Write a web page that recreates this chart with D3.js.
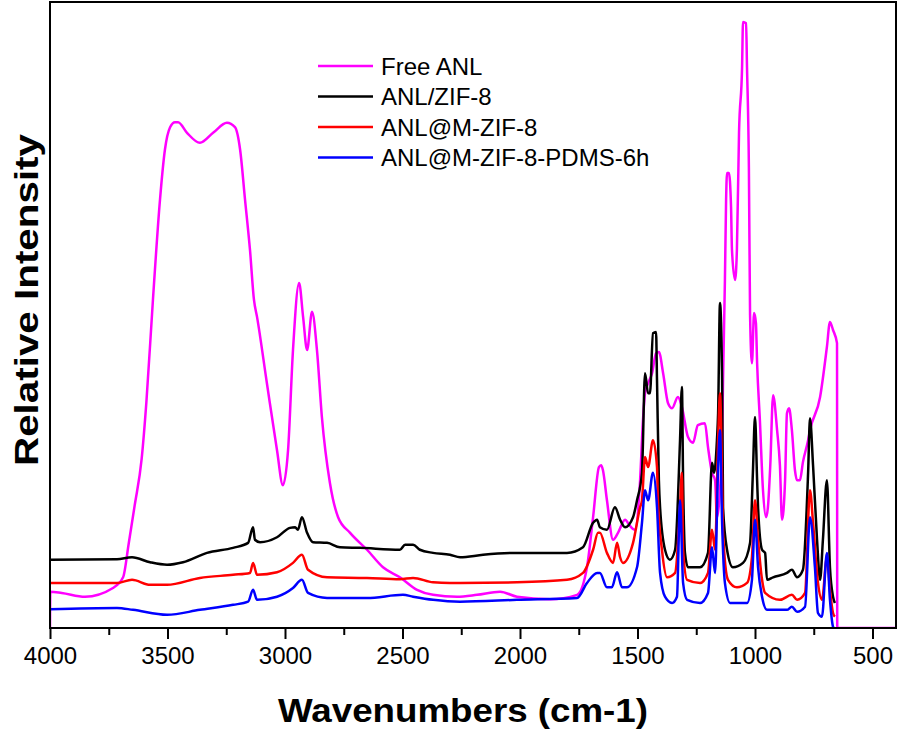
<!DOCTYPE html>
<html><head><meta charset="utf-8">
<script src="https://cdnjs.cloudflare.com/ajax/libs/d3/7.8.5/d3.min.js"></script>
<style>
html,body{margin:0;padding:0;background:#fff;}
svg{display:block;font-family:"Liberation Sans",Arial,sans-serif;}
</style></head>
<body>
<svg id="chart" width="898" height="731"></svg>
<script>
// ---------- data (wavenumber cm-1, relative intensity 0-100) ----------
const seriesNames = ["Free ANL", "ANL/ZIF-8", "ANL@M-ZIF-8", "ANL@M-ZIF-8-PDMS-6h"];
const seriesColors = ["#ff00ff", "#000000", "#ff0000", "#0000ff"];
const majorTicks = [4000, 3500, 3000, 2500, 2000, 1500, 1000, 500];
const minorTicks = [3750, 3250, 2750, 2250, 1750, 1250, 750];

const freeANL = [[4000,0],[3999,5.8],[3950,5.6],[3851,5.0],[3732,6.4],[3689,8.1],[3665,13.5],[3640,19.5],[3610,27],[3590,36],[3562,52.4],[3532,68.4],[3511,76.4],[3489,80.0],[3468,80.8],[3455,80.8],[3417,79.1],[3362,77.5],[3306,79.1],[3247,80.7],[3213,80.0],[3191,76.4],[3170,68.4],[3149,60.4],[3132,52.4],[3119,49.7],[3077,39.1],[3034,28.4],[3009,22.8],[2987,28.4],[2966,44.4],[2940,55.1],[2923,49.7],[2906,44.4],[2885,50.5],[2864,44.4],[2843,33.7],[2809,23.2],[2774,17.7],[2723,15.2],[2651,12.5],[2583,9.7],[2511,8.1],[2438,6.1],[2370,5.3],[2268,5.0],[2183,5.3],[2085,5.8],[2013,5.0],[1872,4.6],[1757,5.3],[1715,9.7],[1689,17.7],[1664,25.7],[1655,26.0],[1647,25.2],[1630,20.4],[1604,14.1],[1583,15.2],[1553,17.3],[1532,16.3],[1511,15.7],[1489,23.6],[1477,33.0],[1468,37.5],[1455,39.1],[1438,40.7],[1421,43.9],[1409,44.1],[1391,40.7],[1370,35.9],[1353,35.1],[1328,36.9],[1311,35.3],[1285,30.5],[1264,29.6],[1243,32.4],[1213,32.7],[1200,28.9],[1183,24.8],[1170,23.6],[1162,17.6],[1149,22.0],[1140,30.0],[1136,39.6],[1128,55.6],[1123,68.4],[1119,72.7],[1111,72.7],[1102,67.3],[1098,60.4],[1085,55.6],[1077,60.4],[1068,79.1],[1055,89.6],[1051,96.8],[1038,96.6],[1034,89.6],[1026,73.6],[1021,50.0],[1013,42.3],[1004,50.3],[996,48.7],[991,42.3],[979,33.0],[966,22.0],[953,17.7],[945,19.3],[935,26.0],[923,37.2],[906,31.6],[894,26.0],[885,17.3],[872,23.6],[864,34.3],[855,35.1],[843,31.6],[830,25.2],[821,23.6],[809,23.6],[796,26.5],[774,30.0],[766,31.6],[723,36.9],[694,44.9],[681,48.9],[668,47.6],[651,45.5],[650,0],[400,0]];

const anlZIF8 = [[4000,10.9],[3715,11.0],[3651,11.3],[3574,10.5],[3502,10.1],[3434,10.5],[3332,12.0],[3221,12.8],[3157,13.6],[3136,16.1],[3128,14.1],[3106,13.7],[3034,14.5],[2979,16.0],[2957,16.1],[2945,15.7],[2928,17.7],[2906,15.2],[2881,13.7],[2821,13.6],[2766,12.9],[2681,12.8],[2511,12.5],[2489,13.3],[2455,13.3],[2426,12.5],[2370,12.0],[2298,11.7],[2255,11.3],[2157,11.7],[2013,12.0],[1800,12.0],[1732,12.9],[1689,16.8],[1672,17.3],[1660,16.1],[1630,15.7],[1596,19.3],[1574,17.3],[1553,16.1],[1519,17.7],[1502,20.4],[1481,24.8],[1468,40.7],[1455,37.5],[1447,37.5],[1434,47.1],[1421,47.3],[1417,39.6],[1409,23.6],[1404,19.3],[1383,12.5],[1362,10.9],[1340,12.5],[1319,30.0],[1311,38.5],[1306,23.6],[1298,12.0],[1285,9.7],[1234,9.7],[1200,12.0],[1183,26.4],[1174,24.8],[1162,30.0],[1157,34.3],[1149,51.9],[1140,39.6],[1136,19.3],[1119,12.5],[1094,9.7],[1051,10.4],[1021,13.6],[1009,24.8],[1000,33.7],[991,23.6],[987,19.3],[970,12.5],[957,12.0],[949,7.7],[923,8.1],[864,8.8],[843,9.3],[821,8.1],[796,9.3],[774,24.8],[766,33.5],[753,26.0],[736,14.1],[723,7.7],[711,14.1],[694,23.6],[681,9.7],[668,5.0],[660,4.0]];

const anlMZIF8 = [[4000,7.2],[3715,7.2],[3651,7.7],[3574,6.9],[3502,6.9],[3362,8.0],[3221,8.5],[3149,8.8],[3136,10.4],[3119,8.5],[3034,8.9],[2966,10.4],[2928,11.7],[2902,9.3],[2821,8.1],[2651,8.0],[2511,7.8],[2455,8.0],[2370,7.3],[2298,7.2],[2255,7.2],[2013,7.3],[1800,7.7],[1732,8.8],[1689,12.5],[1668,15.2],[1660,15.2],[1630,12.0],[1604,10.4],[1587,13.6],[1574,11.3],[1562,10.4],[1519,13.6],[1489,19.3],[1481,20.4],[1468,27.3],[1455,25.7],[1434,30.0],[1417,25.7],[1413,20.4],[1396,12.5],[1374,8.1],[1340,8.8],[1319,19.3],[1311,24.8],[1306,12.5],[1289,7.7],[1234,7.2],[1200,8.8],[1183,15.7],[1170,12.5],[1157,30.0],[1149,37.5],[1140,23.6],[1136,15.2],[1115,7.7],[1077,6.5],[1034,7.2],[1013,11.3],[1000,20.4],[987,14.1],[970,7.7],[957,5.6],[894,4.5],[843,5.3],[821,4.5],[787,5.6],[766,22.0],[753,16.8],[732,7.2],[715,4.5],[694,11.3],[681,6.1],[668,2.4],[660,1.8]];

const anlMZIF8PDMS = [[4000,3.0],[3715,3.2],[3647,2.9],[3502,2.1],[3362,2.9],[3221,3.7],[3157,4.2],[3136,6.1],[3119,4.5],[3034,5.0],[2966,6.4],[2928,7.7],[2902,5.6],[2821,4.8],[2651,4.8],[2498,5.3],[2455,5.0],[2370,4.5],[2255,4.2],[2013,4.5],[1757,4.8],[1715,7.2],[1672,8.8],[1660,8.8],[1630,6.5],[1609,6.5],[1587,8.9],[1566,6.5],[1545,6.5],[1502,9.7],[1481,16.8],[1468,22.0],[1455,20.4],[1434,24.8],[1417,19.3],[1404,8.8],[1383,5.0],[1353,4.0],[1332,5.0],[1319,20.4],[1306,7.2],[1289,4.5],[1234,4.0],[1200,5.6],[1183,12.9],[1170,8.8],[1157,25.7],[1149,31.6],[1140,16.8],[1128,7.2],[1106,4.0],[1034,4.0],[1013,7.7],[1000,17.3],[987,9.7],[970,5.0],[949,2.9],[864,2.9],[843,3.4],[821,2.6],[787,3.4],[766,17.7],[745,9.7],[732,2.4],[715,1.8],[694,12.0],[681,4.5],[668,0.2],[665,0]];

// ---------- layout ----------
const svg = d3.select("#chart");
const L = 50, R = 896, T = 2, B = 628;
const x = d3.scaleLinear().domain([4000, 400]).range([L, R]);
const y = d3.scaleLinear().domain([0, 100]).range([B, T]);

const line = d3.line().x(d => x(d[0])).y(d => y(d[1])).curve(d3.curveMonotoneX);

const seriesData = [freeANL, anlZIF8, anlMZIF8, anlMZIF8PDMS];

svg.append("defs").append("clipPath").attr("id","clip")
  .append("rect").attr("x",L).attr("y",T).attr("width",R-L).attr("height",B-T);

const g = svg.append("g").attr("clip-path","url(#clip)");
seriesData.forEach((d,i) => {
  g.append("path").datum(d).attr("d", line)
    .attr("fill","none").attr("stroke", seriesColors[i])
    .attr("stroke-width", 2.5).attr("stroke-linejoin","round");
});

// frame
svg.append("rect").attr("x",L).attr("y",T).attr("width",R-L).attr("height",B-T)
  .attr("fill","none").attr("stroke","#000").attr("stroke-width",2);

// bottom axis
const axis = d3.axisBottom(x).tickValues(majorTicks).tickSize(11).tickPadding(8).tickFormat(d3.format("d"));
const ax = svg.append("g").attr("transform",`translate(0,${B})`).call(axis);
ax.select(".domain").remove();
ax.selectAll(".tick line").attr("stroke-width",2);
ax.selectAll(".tick text").attr("font-size","24px").attr("fill","#000")
  .attr("font-family","'Liberation Sans',Arial,sans-serif");
const axm = svg.append("g").attr("transform",`translate(0,${B})`)
  .call(d3.axisBottom(x).tickValues(minorTicks).tickSize(7).tickFormat(""));
axm.select(".domain").remove();
axm.selectAll(".tick line").attr("stroke-width",2);

// axis titles
svg.append("text").attr("x",(278+648)/2).attr("y",722).attr("text-anchor","middle")
  .attr("font-weight","bold").attr("font-size","34px")
  .attr("textLength",370).attr("lengthAdjust","spacingAndGlyphs")
  .text("Wavenumbers (cm-1)");
svg.append("text").attr("transform","translate(38,300) rotate(-90)").attr("text-anchor","middle")
  .attr("font-weight","bold").attr("font-size","34px")
  .attr("textLength",332).attr("lengthAdjust","spacingAndGlyphs")
  .text("Relative Intensity");

// legend
const lg = svg.append("g");
seriesNames.forEach((n,i) => {
  const yy = 66 + i*30.5;
  lg.append("line").attr("x1",318).attr("x2",373).attr("y1",yy).attr("y2",yy)
    .attr("stroke",seriesColors[i]).attr("stroke-width",2.4);
  lg.append("text").attr("x",381).attr("y",yy+8.5).attr("font-size","24px").text(n);
});
</script>
</body></html>
